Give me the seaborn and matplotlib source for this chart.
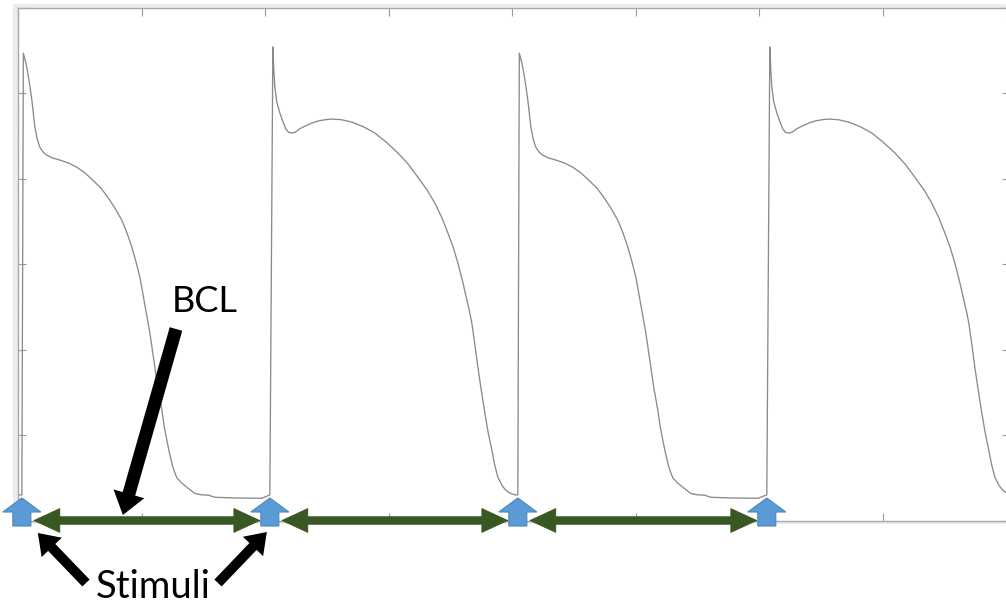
import numpy as np
import pandas as pd
import matplotlib
matplotlib.use("Agg")
import matplotlib.pyplot as plt
import seaborn as sns
from matplotlib.patches import Polygon, FancyArrow, Rectangle
from matplotlib.transforms import IdentityTransform

# ---------------- data ----------------
# short action potential (time after stimulus in ms, membrane potential in mV)
short_dt = [0, 3, 8, 12.1, 16.2, 20.2, 26.3, 31.4, 36.4, 42.5, 50.6, 62, 76.9, 95,
            111.3, 128, 143.7, 160, 174.1, 188, 202.4, 213, 222.7, 231, 238.9,
            244, 249.0, 254, 259.1, 264, 269.2, 275.3, 283.4, 288, 293.5, 299.6,
            305.7, 313.6, 323.9, 336, 350.2, 365, 378.5, 390.7, 430, 485.8]
short_v = [-92.5, 36.8, 34.0, 30.9, 27.2, 23.1, 15.2, 11.4, 9.3, 7.9, 6.9, 6.1, 5.5,
           4.6, 3.4, 1.7, -0.4, -2.7, -5.4, -8.5, -12.1, -15.9, -20.0, -24.3,
           -28.7, -32.8, -37.0, -41.0, -45.1, -49.9, -55.1, -61.2, -67.7, -72.3,
           -76.5, -80.8, -84.4, -87.5, -89.1, -90.5, -92.1, -92.5, -92.6, -93.2,
           -93.4, -93.5]
# long action potential
long_dt = [0, 6.1, 8, 10.1, 14, 20.2, 26.3, 32.4, 38, 44.5, 52, 60, 68, 76.9, 88,
           100, 112, 125.5, 145, 166.0, 190, 212.6, 235, 259.1, 280, 299.6, 318,
           334.0, 348, 360.3, 371, 380.6, 390, 398.8, 404, 408.9, 415, 421.1, 428,
           435.2, 442, 449.4, 455, 461.5, 469.6, 476, 481.8, 489.9, 496.0]
long_v = [-92.5, 38.6, 32.0, 26.9, 22.5, 19.3, 16.8, 14.6, 13.6, 13.4, 13.7, 14.6,
          15.2, 15.8, 16.5, 17.0, 17.3, 17.5, 17.3, 16.6, 15.2, 13.4, 10.8, 7.6,
          4.3, 0.5, -3.2, -7.1, -11.3, -15.8, -20.0, -24.6, -29.9, -35.5, -38.7,
          -42.2, -48.5, -55.1, -61.9, -68.5, -74.3, -79.4, -83.6, -87.3, -89.6,
          -90.9, -91.6, -92.2, -92.5]

stim_times = [7, 509, 1011, 1515]          # ms
beat_kind = ["short", "long", "short", "long"]
rest_v = -92.5

x_ticks = [0, 250, 500, 750, 1000, 1250, 1500, 1750, 2000]
y_ticks = [-100, -75, -50, -25, 0, 25, 50]

label_bcl = "BCL"
label_stim = "Stimuli"

# ---------------- build series ----------------
templates = {"short": (short_dt, short_v), "long": (long_dt, long_v)}
t_all = [0.0]
v_all = [rest_v]
for st, kind in zip(stim_times, beat_kind):
    dts, vs = templates[kind]
    for d, v in zip(dts, vs):
        t_all.append(st + d)
        v_all.append(v)
df = pd.DataFrame({"t": t_all, "V": v_all})

# ---------------- figure ----------------
W, H = 1006, 604
sns.set_style("white")
plt.rcParams["font.family"] = ["Lato", "DejaVu Sans"]

fig = plt.figure(figsize=(W / 100, H / 100), dpi=100)
fig.patch.set_facecolor("white")

px_per_ms = 988.0 / 2000.0
ax_left, ax_top, ax_bot = 18.4, 8.0, 520.5
x_max = 2008
ax_right = ax_left + x_max * px_per_ms
ax = fig.add_axes([ax_left / W, (H - ax_bot) / H,
                   (ax_right - ax_left) / W, (ax_bot - ax_top) / H])
ax.set_facecolor("white")

# faint frame shadow behind the axes
shadow = Rectangle((13 / W, (H - 524) / H), (W + 10 - 13) / W, (524 - 3.5) / H,
                   transform=fig.transFigure, facecolor="#ececec",
                   edgecolor="none", zorder=-5)
fig.add_artist(shadow)
ax.set_zorder(0)

sns.lineplot(data=df, x="t", y="V", ax=ax, color="#8a8a8a", linewidth=0.95,
             estimator=None, sort=False)

ax.set_xlim(0, x_max)
ax.set_ylim(-100, 50)
ax.set_xticks(x_ticks)
ax.set_yticks(y_ticks)
ax.set_xticklabels([])
ax.set_yticklabels([])
ax.set_xlabel("")
ax.set_ylabel("")
ax.tick_params(direction="in", length=6, width=0.8, color="#9a9a9a",
               top=True, right=True, bottom=True, left=True)
for s in ax.spines.values():
    s.set_visible(True)
    s.set_color("#a8a8a8")
    s.set_linewidth(1.0)

# ---------------- annotations (pixel layout) ----------------
def D(x, y):
    """image pixel (y downward) -> display coords"""
    return (x, H - y)

sx = [ax.transData.transform((t, 0))[0] for t in stim_times]
base_y = ax_bot  # image y of axis bottom

# green double arrows (BCL) between stimuli
green = "#385723"
for i in range(len(sx) - 1):
    xl = sx[i] + 12
    xr = sx[i + 1] - 10
    hl, hw, sw = 26, 12, 3.8
    pts = [(xl, 0), (xl + hl, -hw), (xl + hl, -sw), (xr - hl, -sw), (xr - hl, -hw),
           (xr, 0), (xr - hl, hw), (xr - hl, sw), (xl + hl, sw), (xl + hl, hw)]
    poly = Polygon([D(px, base_y + py) for px, py in pts], closed=True,
                   transform=IdentityTransform(), facecolor=green,
                   edgecolor=green, linewidth=0.5, zorder=5)
    fig.add_artist(poly)

# blue stimulus arrows
for x0 in sx:
    pts = [(0, -22.5), (19, -8.5), (9, -8.5), (9, 5.5), (-9, 5.5), (-9, -8.5),
           (-19, -8.5)]
    poly = Polygon([D(x0 + px, base_y + py) for px, py in pts], closed=True,
                   transform=IdentityTransform(), facecolor="#5b9bd5",
                   edgecolor="#4a86c0", linewidth=0.8, zorder=6)
    fig.add_artist(poly)

# black arrows
def black_arrow(tail, tip, width, head_w, head_l):
    (x1, y1), (x2, y2) = D(*tail), D(*tip)
    a = FancyArrow(x1, y1, x2 - x1, y2 - y1, width=width, head_width=head_w,
                   head_length=head_l, length_includes_head=True,
                   transform=IdentityTransform(), facecolor="black",
                   edgecolor="black", linewidth=0, zorder=7)
    fig.add_artist(a)

black_arrow((176, 329), (sx[0] + 101, 515), 13, 32, 22)
black_arrow((86, 583), (sx[0] + 16, 533), 10, 28, 20)
black_arrow((218, 583), (sx[1] - 3, 532), 10, 28, 20)

fig.text(172 / W, (H - 312) / H, label_bcl, fontsize=26, color="black",
         ha="left", va="baseline", zorder=8)
fig.text(96 / W, (H - 598) / H, label_stim, fontsize=27.5, color="black",
         ha="left", va="baseline", zorder=8)

fig.savefig("out.png", dpi=100, facecolor="white")
